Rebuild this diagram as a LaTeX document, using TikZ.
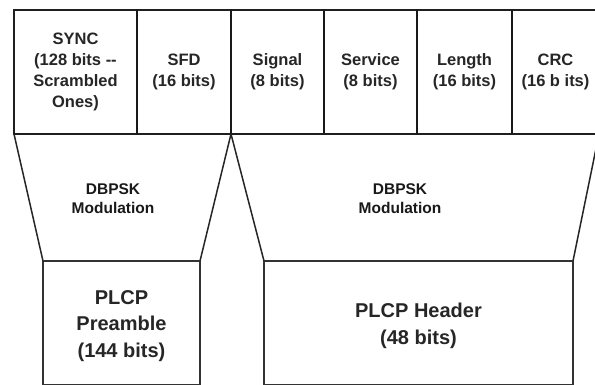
\documentclass[tikz,border=0pt]{standalone}
\usepackage{fontspec}
\setmainfont{Liberation Sans}
\begin{document}
\begin{tikzpicture}[x=1pt,y=-1pt,
  field/.style={draw=black!88,line width=1.5pt,anchor=north west,inner sep=0pt,outer sep=0pt,
    minimum height=124pt,align=center,font=\fontsize{16.5}{20.7}\selectfont\bfseries,text=black!85},
  divider/.style={draw=black!90,line width=2.6pt},
  slant/.style={draw=black!85,line width=1.5pt},
  lower/.style={draw=black!80,line width=1.3pt,anchor=north west,inner sep=0pt,outer sep=0pt},
  modlbl/.style={align=center,font=\fontsize{15.5}{19.5}\selectfont\bfseries,text=black!90},
  biglbl/.style={align=center,font=\fontsize{20}{26.5}\selectfont\bfseries,text=black!85}]
\useasboundingbox (0,0) rectangle (595,385);
\clip (0,0) rectangle (595,385);
\fill[white] (0,0) rectangle (595,385);
% top fields
\node[field,minimum width=123pt] (sync) at (14,10) {SYNC\\(128 bits {-}{-}\\Scrambled\\Ones)};
\node[field,minimum width=94pt] (sfd) at (137,10) {SFD\\(16 bits)};
\node[field,minimum width=93pt] (signal) at (231,10) {Signal\\(8 bits)};
\node[field,minimum width=93pt] (service) at (324,10) {Service\\(8 bits)};
\node[field,minimum width=95pt] (length) at (417,10) {Length\\(16 bits)};
\node[field,minimum width=87pt] (crc) at (512,10) {CRC\\(16 b its)};
% thicker dividers
\draw[divider] (sync.north east) -- (sync.south east);
\draw[divider] (sfd.north east) -- (sfd.south east);
\draw[divider] (signal.north east) -- (signal.south east);
\draw[divider] (service.north east) -- (service.south east);
\draw[divider] (length.north east) -- (length.south east);
% lower boxes
\node[lower,minimum width=157pt,minimum height=124pt] (pre) at (43,261) {};
\node[lower,minimum width=309pt,minimum height=124pt] (hdr) at (264,261) {};
% trapezoid sides
\draw[slant] (sync.south west) -- (pre.north west);
\draw[slant] (sfd.south east) -- (pre.north east);
\draw[slant] (sfd.south east) -- (hdr.north west);
\draw[slant] (crc.south east) -- (hdr.north east);
% labels
\node[modlbl] (mod1) at (113,198.5) {DBPSK\\Modulation};
\node[modlbl] (mod2) at (400,198.5) {DBPSK\\Modulation};
\node[biglbl] (prelbl) at (121.5,326) {PLCP\\Preamble\\(144 bits)};
\node[biglbl] (hdrlbl) at (418.5,326) {PLCP Header\\(48 bits)};
\end{tikzpicture}
\end{document}
